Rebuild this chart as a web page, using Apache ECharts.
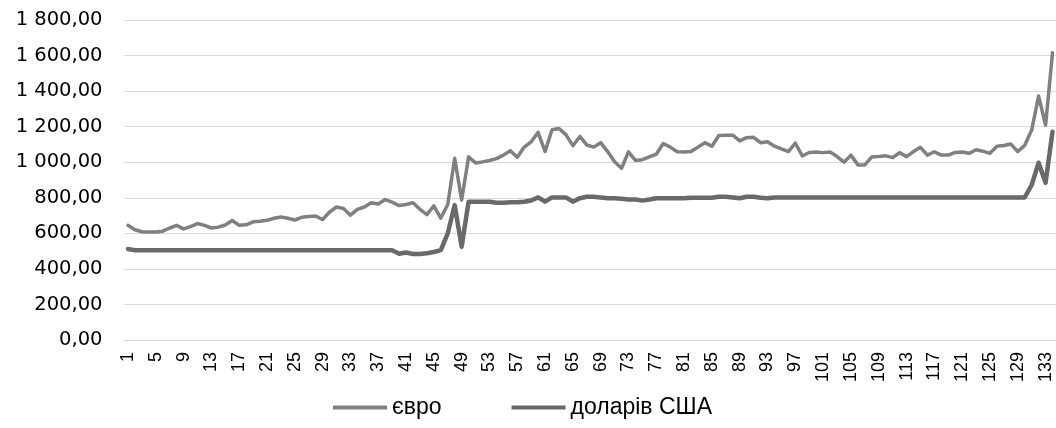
<!DOCTYPE html>
<html>
<head>
<meta charset="utf-8">
<script src="https://cdn.jsdelivr.net/npm/echarts@6/dist/echarts.min.js"></script>
<style>
html,body{margin:0;padding:0;background:#fff;}
#chart{width:1056px;height:428px;}
</style>
</head>
<body>
<div id="chart"></div>
<script>
const seriesNames = ['євро', 'доларів США'];

const euro = [
  645, 620, 609, 607, 607, 612, 630, 645, 625, 638,
  655, 645, 630, 635, 647, 672, 645, 648, 665, 668,
  673, 685, 692, 685, 675, 690, 695, 697, 678, 720,
  748, 740, 702, 735, 748, 772, 765, 790, 775, 756,
  762, 772, 735, 705, 754, 686, 762, 1022, 787, 1030,
  996, 1002, 1010, 1020, 1040, 1065, 1028, 1085, 1115, 1168,
  1060, 1183, 1190, 1155, 1093, 1145, 1097, 1085, 1110, 1060,
  1003, 966, 1058, 1010, 1014, 1030, 1045, 1105, 1085, 1059,
  1058, 1060, 1085, 1110, 1090, 1150, 1152, 1152, 1120, 1138,
  1140, 1110, 1115, 1090, 1075, 1060, 1108, 1035, 1055, 1057,
  1054, 1058, 1032, 1000, 1040, 985, 985, 1030, 1032, 1036,
  1026, 1054, 1031, 1060, 1084, 1040, 1059, 1040, 1040, 1055,
  1058, 1050, 1070, 1062, 1050, 1090, 1094, 1102, 1060, 1095,
  1181, 1372, 1209, 1616
];

const usd = [
  512, 505, 505, 505, 505, 505, 505, 505, 505, 505,
  505, 505, 505, 505, 505, 505, 505, 505, 505, 505,
  505, 505, 505, 505, 505, 505, 505, 505, 505, 505,
  505, 505, 505, 505, 505, 505, 505, 505, 505, 485,
  492, 484, 484, 488, 495, 506, 600, 759, 525, 778,
  778, 778, 778, 772, 772, 775, 775, 778, 785, 802,
  778, 802, 802, 802, 778, 797, 806, 806, 802, 797,
  797, 795, 790, 790, 784, 790, 797, 797, 797, 797,
  797, 800, 800, 800, 800, 806, 806, 802, 797, 806,
  806, 800, 797, 802, 802, 802, 802, 802, 802, 802,
  802, 802, 802, 802, 802, 802, 802, 802, 802, 802,
  802, 802, 802, 802, 802, 802, 802, 802, 802, 802,
  802, 802, 802, 802, 802, 802, 802, 802, 802, 802,
  872, 997, 885, 1172
];

const categories = euro.map((_, i) => String(i + 1));
const yTicks = [0, 200, 400, 600, 800, 1000, 1200, 1400, 1600, 1800];

function fmt(v) {
  const parts = v.toFixed(2).split('.');
  const intPart = parts[0].replace(/\B(?=(\d{3})+(?!\d))/g, ' ');
  return intPart + ',' + parts[1];
}

const chart = echarts.init(document.getElementById('chart'), null, {renderer: 'canvas'});
chart.setOption({
  animation: false,
  backgroundColor: '#ffffff',
  grid: {left: 124.5, right: 0, top: 20, bottom: 88, containLabel: false},
  legend: {
    data: seriesNames,
    left: 333,
    top: 396,
    padding: 0,
    icon: 'rect',
    itemWidth: 54,
    itemHeight: 4,
    itemGap: 70,
    textStyle: {fontFamily: 'Liberation Sans', fontSize: 23, color: '#000'}
  },
  xAxis: {
    type: 'category',
    data: categories,
    boundaryGap: true,
    axisLine: {show: true, lineStyle: {color: '#d9d9d9', width: 1}},
    axisTick: {show: false},
    axisLabel: {
      interval: 3,
      rotate: 90,
      margin: 12,
      fontFamily: 'Liberation Sans',
      fontSize: 18,
      color: '#000'
    },
    splitLine: {show: false}
  },
  yAxis: {
    type: 'value',
    min: yTicks[0],
    max: yTicks[yTicks.length - 1],
    interval: 200,
    axisLine: {show: false},
    axisTick: {show: false},
    axisLabel: {
      margin: 22,
      fontFamily: 'DejaVu Sans',
      fontSize: 19.5,
      color: '#000',
      formatter: fmt
    },
    splitLine: {show: true, lineStyle: {color: '#d9d9d9', width: 1}}
  },
  series: [
    {
      name: seriesNames[0],
      type: 'line',
      data: euro,
      showSymbol: false,
      symbol: 'none',
      lineStyle: {color: '#808080', width: 3.5, join: 'round', cap: 'round'},
      itemStyle: {color: '#808080'}
    },
    {
      name: seriesNames[1],
      type: 'line',
      data: usd,
      showSymbol: false,
      symbol: 'none',
      lineStyle: {color: '#696969', width: 4.5, join: 'round', cap: 'round'},
      itemStyle: {color: '#696969'}
    }
  ]
});
</script>
</body>
</html>
